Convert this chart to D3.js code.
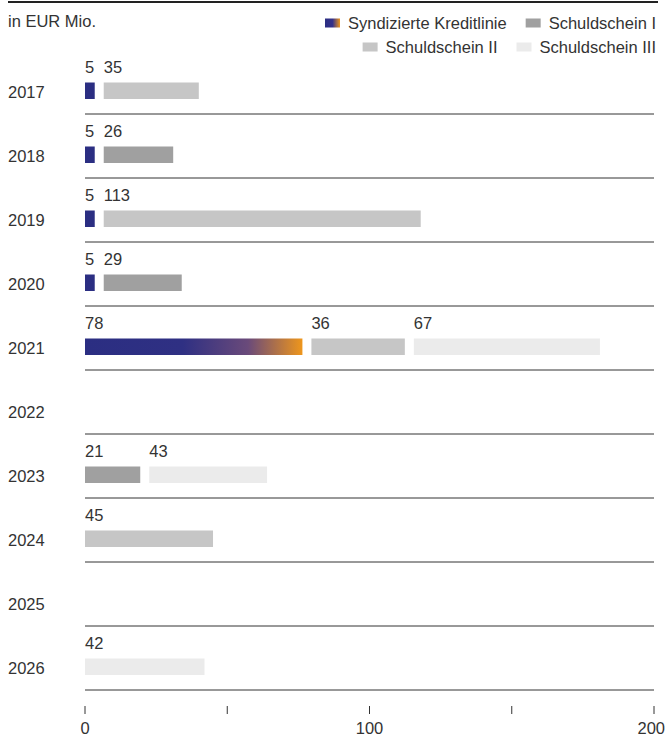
<!DOCTYPE html>
<html><head><meta charset="utf-8">
<script src="https://cdn.jsdelivr.net/npm/d3@7"></script>
<style>body{margin:0;background:#fff;} svg{display:block;font-family:"Liberation Sans",Arial,sans-serif;}</style>
</head><body>
<svg id="c" width="666" height="738"></svg>
<script>
const years = ["2017","2018","2019","2020","2021","2022","2023","2024","2025","2026"];
const seriesNames = ["Syndizierte Kreditlinie","Schuldschein I","Schuldschein II","Schuldschein III"];
const syndiziert   = [5,5,5,5,78,0,0,0,0,0];
const schuldschein1 = [0,26,0,29,0,0,21,0,0,0];
const schuldschein2 = [35,0,113,0,36,0,0,45,0,0];
const schuldschein3 = [0,0,0,0,67,0,43,0,0,42];
const tickValues = [0,50,100,150,200];
const tickLabels = ["0","","100","","200"];
const colors = ["url(#grad)","#a0a0a0","#c6c6c6","#ebebeb"];
const seriesData = [syndiziert, schuldschein1, schuldschein2, schuldschein3];

const svg = d3.select("#c");
const x = d3.scaleLinear().domain([0,200]).range([85,654]);
const y = d3.scaleBand().domain(years).range([50,690]).padding(0);
const gap = 9;
const textCol = "#333";
const fs = 16.5;

const defs = svg.append("defs");
const g = defs.append("linearGradient").attr("id","grad").attr("gradientUnits","userSpaceOnUse")
  .attr("x1", x(0)).attr("x2", x(78)-gap/2).attr("y1",0).attr("y2",0);
g.append("stop").attr("offset","0").attr("stop-color","#2b2e82");
g.append("stop").attr("offset","0.45").attr("stop-color","#2f3083");
g.append("stop").attr("offset","0.75").attr("stop-color","#6a4a7a");
g.append("stop").attr("offset","1").attr("stop-color","#ee961c");
const lg = defs.append("linearGradient").attr("id","lgrad");
lg.append("stop").attr("offset","0").attr("stop-color","#2b2e82");
lg.append("stop").attr("offset","0.5").attr("stop-color","#34318a");
lg.append("stop").attr("offset","1").attr("stop-color","#ee961c");

// top line
svg.append("line").attr("x1",8).attr("x2",658).attr("y1",2).attr("y2",2).attr("stroke","#222").attr("stroke-width",2);
svg.append("text").attr("x",8).attr("y",27).attr("font-size",fs).attr("fill",textCol).text("in EUR Mio.");

// legend
const legendRows = [[0,1],[2,3]];
const legendRight = 656;
legendRows.forEach((row,ri)=>{
  let cur = legendRight;
  const yy = 23 + ri*24;
  for (let k=row.length-1;k>=0;k--){
    const i = row[k];
    const t = svg.append("text").attr("font-size",fs).attr("fill",textCol).attr("y",yy+6).text(seriesNames[i]);
    const w = t.node().getComputedTextLength();
    t.attr("x",cur-w);
    svg.append("rect").attr("x",cur-w-23).attr("y",yy-4.5).attr("width",15).attr("height",9)
      .attr("fill", i===0 ? "url(#lgrad)" : colors[i]);
    cur = cur - w - 23 - 19;
  }
});

// rows
years.forEach((yr,j)=>{
  const y0 = y(yr);
  svg.append("text").attr("x",8).attr("y",y0+48).attr("font-size",fs).attr("fill",textCol).text(yr);
  svg.append("line").attr("x1",x(0)).attr("x2",x(200)).attr("y1",y0+y.bandwidth()).attr("y2",y0+y.bandwidth())
    .attr("stroke","#333").attr("stroke-width",1);
  let cum = 0;
  const segs = [];
  seriesData.forEach((arr,i)=>{
    if (arr[j]>0){ segs.push({i, s:cum, e:cum+arr[j], v:arr[j]}); cum += arr[j]; }
  });
  segs.forEach((sg,k)=>{
    const x0 = x(sg.s) + (k>0 ? gap/2 : 0);
    const x1 = x(sg.e) - (k<segs.length-1 ? gap/2 : 0);
    svg.append("rect").attr("x",x0).attr("y",y0+32.5).attr("width",x1-x0).attr("height",16.5).attr("fill",colors[sg.i]);
    svg.append("text").attr("x",x0).attr("y",y0+23).attr("font-size",fs).attr("fill",textCol).text(sg.v);
  });
});

// axis
tickValues.forEach((v,i)=>{
  svg.append("line").attr("x1",x(v)).attr("x2",x(v)).attr("y1",706).attr("y2",714).attr("stroke","#333").attr("stroke-width",1);
  if (tickLabels[i]) {
    const last = i === tickValues.length-1;
    svg.append("text").attr("x", last ? 665 : x(v)).attr("y",734)
      .attr("text-anchor", last ? "end" : "middle").attr("font-size",fs).attr("fill",textCol).text(tickLabels[i]);
  }
});
</script>
</body></html>
